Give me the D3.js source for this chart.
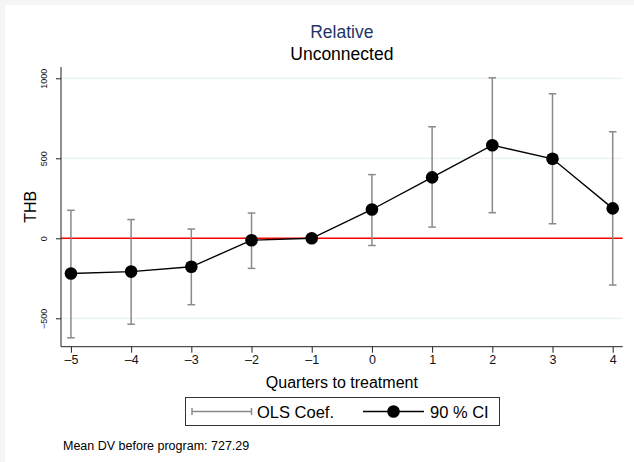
<!DOCTYPE html>
<html>
<head>
<meta charset="utf-8">
<script src="https://cdn.jsdelivr.net/npm/d3@7"></script>
<style>
  html, body { margin: 0; padding: 0; background: #f5f5f5; }
  svg { display: block; }
  text { font-family: "Liberation Sans", Arial, Helvetica, sans-serif; }
</style>
</head>
<body>
<svg id="chart" width="634" height="462"></svg>
<script>
// Event-study estimates by quarter relative to treatment
const quarters = [-5, -4, -3, -2, -1, 0, 1, 2, 3, 4];
const coefs    = [-220, -208, -178, -12, 0, 180, 381, 582, 497, 187];
const ciLow    = [-622, -537, -415, -188, 0, -45, 70, 160, 91, -292];
const ciHigh   = [175, 117, 58, 158, 0, 398, 697, 1003, 903, 666];
const yTicks   = [-500, 0, 500, 1000];
const xTicks   = [-5, -4, -3, -2, -1, 0, 1, 2, 3, 4];
const legendLabels = ["OLS Coef.", "90 % CI"];
const titleText = "Relative";
const subtitleText = "Unconnected";
const yTitle = "THB";
const xTitle = "Quarters to treatment";
const noteText = "Mean DV before program: 727.29";

const svg = d3.select("#chart");

// white canvas inside a thin grey margin
svg.append("rect").attr("x", 5).attr("y", 5).attr("width", 629).attr("height", 457).attr("fill", "#ffffff");

const plot = { left: 61, right: 622.7, top: 67, bottom: 346.7 };

const x = d3.scaleLinear().domain([-5.165, 4.166]).range([plot.left, plot.right]);
const y = d3.scaleLinear().domain([-677.5, 1070.6]).range([plot.bottom, plot.top]);

const data = quarters.map((q, i) => ({ q, b: coefs[i], lo: ciLow[i], hi: ciHigh[i] }));

// grid lines
svg.append("g").selectAll("line").data(yTicks.filter(t => t !== 0)).join("line")
  .attr("x1", plot.left).attr("x2", plot.right)
  .attr("y1", d => y(d)).attr("y2", d => y(d))
  .attr("stroke", "#e3eef0").attr("stroke-width", 1);

// zero reference line
svg.append("line")
  .attr("x1", plot.left).attr("x2", plot.right)
  .attr("y1", y(0)).attr("y2", y(0))
  .attr("stroke", "#ff0000").attr("stroke-width", 1.4);

// y axis
const yAxis = svg.append("g").attr("transform", `translate(${plot.left},0)`)
  .call(d3.axisLeft(y).tickValues(yTicks).tickSize(5).tickFormat(d => d3.format("")(d).replace("-", "\u2212")));
yAxis.select(".domain").attr("d", `M0,${plot.top}V${plot.bottom}`).attr("stroke", "#222");
yAxis.selectAll(".tick line").attr("stroke", "#222");
yAxis.selectAll(".tick text")
  .attr("transform", "rotate(-90)")
  .attr("x", 0).attr("y", -14)
  .attr("dy", 0)
  .attr("text-anchor", "middle")
  .attr("font-size", 9).attr("fill", "#111");

// x axis
const xAxis = svg.append("g").attr("transform", `translate(0,${plot.bottom})`)
  .call(d3.axisBottom(x).tickValues(xTicks).tickSize(6).tickFormat(d => d < 0 ? "\u2013" + Math.abs(d) : String(d)));
xAxis.select(".domain").attr("d", `M${plot.left},0H${plot.right}`).attr("stroke", "#222");
xAxis.selectAll(".tick line").attr("stroke", "#222");
xAxis.selectAll(".tick text").attr("font-size", 12.5).attr("fill", "#111").attr("y", 8).attr("dy", "0.71em");

// confidence intervals
const ci = svg.append("g").attr("stroke", "#8a8a8a").attr("stroke-width", 1.5);
const withCI = data.filter(d => d.hi !== d.lo);
ci.selectAll("line.v").data(withCI).join("line").attr("class", "v")
  .attr("x1", d => x(d.q)).attr("x2", d => x(d.q))
  .attr("y1", d => y(d.lo)).attr("y2", d => y(d.hi));
ci.selectAll("line.top").data(withCI).join("line").attr("class", "top")
  .attr("x1", d => x(d.q) - 3.8).attr("x2", d => x(d.q) + 3.8)
  .attr("y1", d => y(d.hi)).attr("y2", d => y(d.hi));
ci.selectAll("line.bot").data(withCI).join("line").attr("class", "bot")
  .attr("x1", d => x(d.q) - 3.8).attr("x2", d => x(d.q) + 3.8)
  .attr("y1", d => y(d.lo)).attr("y2", d => y(d.lo));

// coefficient path and markers
svg.append("path").datum(data)
  .attr("d", d3.line().x(d => x(d.q)).y(d => y(d.b)))
  .attr("fill", "none").attr("stroke", "#000").attr("stroke-width", 1.4);
svg.append("g").selectAll("circle").data(data).join("circle")
  .attr("cx", d => x(d.q)).attr("cy", d => y(d.b)).attr("r", 6.3).attr("fill", "#000");

// titles
const cx = (plot.left + plot.right) / 2;
svg.append("text").attr("x", cx).attr("y", 38).attr("text-anchor", "middle")
  .attr("font-size", 17.5).attr("fill", "#1e3564").text(titleText);
svg.append("text").attr("x", cx).attr("y", 59.5).attr("text-anchor", "middle")
  .attr("font-size", 17.5).attr("fill", "#000").text(subtitleText);

// axis titles
svg.append("text").attr("transform", `translate(35.5,${(plot.top + plot.bottom) / 2}) rotate(-90)`)
  .attr("text-anchor", "middle").attr("font-size", 16).attr("fill", "#000").text(yTitle);
svg.append("text").attr("x", cx).attr("y", 387.5).attr("text-anchor", "middle")
  .attr("font-size", 16).attr("fill", "#000").text(xTitle);

// legend
const lg = svg.append("g");
lg.append("rect").attr("x", 185.5).attr("y", 397.5).attr("width", 314).attr("height", 28)
  .attr("fill", "#fff").attr("stroke", "#333").attr("stroke-width", 1);
const ly = 411.5;
lg.append("line").attr("x1", 192).attr("x2", 251.5).attr("y1", ly).attr("y2", ly)
  .attr("stroke", "#8a8a8a").attr("stroke-width", 1.5);
[192, 251.5].forEach(px => lg.append("line").attr("x1", px).attr("x2", px)
  .attr("y1", ly - 3.5).attr("y2", ly + 3.5).attr("stroke", "#8a8a8a").attr("stroke-width", 1.5));
lg.append("text").attr("x", 257).attr("y", ly + 6).attr("font-size", 16.5).text(legendLabels[0]);
lg.append("line").attr("x1", 363).attr("x2", 424).attr("y1", ly).attr("y2", ly)
  .attr("stroke", "#000").attr("stroke-width", 1.4);
lg.append("circle").attr("cx", 393.5).attr("cy", ly).attr("r", 6.3).attr("fill", "#000");
lg.append("text").attr("x", 430).attr("y", ly + 6).attr("font-size", 16.5).text(legendLabels[1]);

// note
svg.append("text").attr("x", 63).attr("y", 450).attr("font-size", 12.5).attr("fill", "#000").text(noteText);
</script>
</body>
</html>
